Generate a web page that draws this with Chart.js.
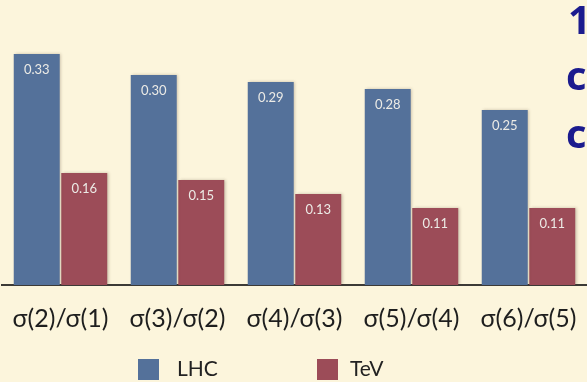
<!DOCTYPE html>
<html>
<head>
<meta charset="utf-8">
<script src="https://cdn.jsdelivr.net/npm/chart.js@4"></script>
<style>
  html, body { margin: 0; padding: 0; background: #fcf5dc; overflow: hidden; }
  #wrap { position: relative; width: 587px; height: 382px; }
</style>
</head>
<body>
<div id="wrap"><canvas id="ratioChart" width="587" height="382"></canvas></div>
<script>
const categories = ["σ(2)/σ(1)", "σ(3)/σ(2)", "σ(4)/σ(3)", "σ(5)/σ(4)", "σ(6)/σ(5)"];
const lhcValues = [0.33, 0.30, 0.29, 0.28, 0.25];
const tevValues = [0.16, 0.15, 0.13, 0.11, 0.11];
const seriesNames = ["LHC", "TeV"];
const sideText = ["1", "c", "c"];

const BLUE = "#54719a";
const RED = "#9c4c58";
const LABEL_FONT = "Lato, 'Open Sans', sans-serif";

// soft shadow behind the bars
const barShadow = {
  id: "barShadow",
  beforeDatasetsDraw(chart) {
    const ctx = chart.ctx;
    ctx.save();
    ctx.shadowColor = "rgba(60, 40, 20, 0.28)";
    ctx.shadowBlur = 3;
    ctx.shadowOffsetX = 1.5;
    ctx.shadowOffsetY = 0;
  },
  afterDatasetsDraw(chart) {
    chart.ctx.restore();
  },
};

// value printed inside the top of each bar
const valueLabels = {
  id: "valueLabels",
  afterDatasetsDraw(chart) {
    const ctx = chart.ctx;
    ctx.save();
    ctx.font = `13px ${LABEL_FONT}`;
    ctx.fillStyle = "#ecebe6";
    ctx.textAlign = "center";
    ctx.textBaseline = "middle";
    chart.data.datasets.forEach((ds, i) => {
      chart.getDatasetMeta(i).data.forEach((bar, j) => {
        ctx.fillText(ds.data[j].toFixed(2), bar.x, bar.y + 16);
      });
    });
    ctx.restore();
  },
};

// legend row under the axis and the clipped slide text on the right
const extras = {
  id: "extras",
  afterDraw(chart) {
    const ctx = chart.ctx;
    ctx.save();
    const items = [
      { box: 138, text: 177, color: BLUE, name: seriesNames[0] },
      { box: 317, text: 350, color: RED, name: seriesNames[1] },
    ];
    items.forEach((it) => {
      ctx.fillStyle = it.color;
      ctx.fillRect(it.box, 359, 21, 21);
      ctx.fillStyle = "#222";
      ctx.font = `21px ${LABEL_FONT}`;
      ctx.textBaseline = "middle";
      ctx.fillText(it.name, it.text, 369);
    });
    ctx.fillStyle = "#1b1b8e";
    ctx.font = "bold 40px 'Open Sans', sans-serif";
    ctx.textBaseline = "alphabetic";
    const xs = [568, 566, 566];
    const ys = [34, 90, 148];
    sideText.forEach((t, i) => ctx.fillText(t, xs[i], ys[i]));
    ctx.restore();
  },
};

new Chart(document.getElementById("ratioChart"), {
  type: "bar",
  data: {
    labels: categories,
    datasets: [
      { label: seriesNames[0], data: lhcValues, backgroundColor: BLUE },
      { label: seriesNames[1], data: tevValues, backgroundColor: RED },
    ],
  },
  options: {
    responsive: false,
    animation: false,
    layout: { padding: { top: 5, left: 2, right: 0, bottom: 0 } },
    plugins: { legend: { display: false }, tooltip: { enabled: false } },
    datasets: { bar: { categoryPercentage: 0.812, barPercentage: 0.968 } },
    scales: {
      x: {
        // tick marks are hidden, their length only pushes the labels down
        grid: { display: false, drawTicks: true, tickLength: 19 },
        border: { display: true, color: "#3c3a36", width: 2 },
        ticks: { color: "#1e1e1e", font: { family: LABEL_FONT, size: 25 }, padding: 0, maxRotation: 0 },
        afterFit(scale) { scale.height = 97; },
      },
      y: { display: false, min: 0, max: 0.4 },
    },
  },
  plugins: [barShadow, valueLabels, extras],
});
</script>
</body>
</html>
